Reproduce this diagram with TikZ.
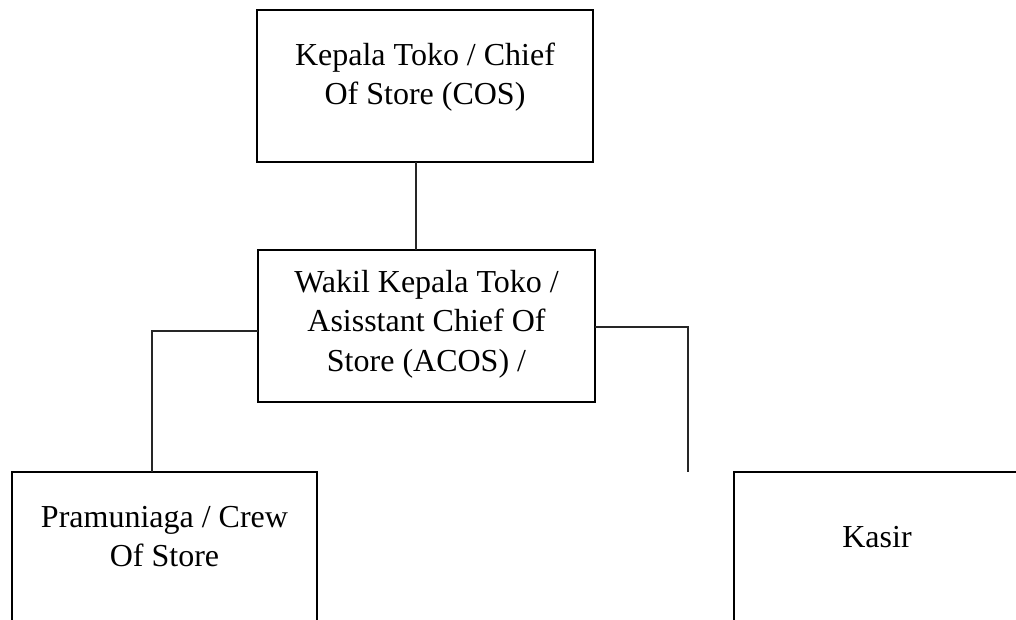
\documentclass[tikz,border=0pt]{standalone}
\usepackage{fontspec}
\setmainfont{Liberation Serif}
\begin{document}
\begin{tikzpicture}[x=1pt,y=-1pt,
  box/.style={draw=black, line width=2.2pt, inner sep=0pt, outer sep=0pt,
    text height=20pt, font=\fontsize{32}{39.5}\selectfont},
  link/.style={draw=black!85, line width=1.3pt}]
\useasboundingbox (0,0) rectangle (1016,619);
\clip (0,0) rectangle (1016,619);
\node[box, minimum width=336pt, minimum height=152pt, text depth=62pt] (top) at (425,86)
  {\begin{tabular}[t]{@{}c@{}}Kepala Toko / Chief\\Of Store (COS)\end{tabular}};
\node[box, minimum width=337pt, minimum height=152pt, text depth=88pt] (mid) at (426.5,326)
  {\begin{tabular}[t]{@{}c@{}}Wakil Kepala Toko /\\Asisstant Chief Of\\Store (ACOS) /\end{tabular}};
\node[box, minimum width=305pt, minimum height=160pt, text depth=70pt] (pram) at (164.5,552)
  {\begin{tabular}[t]{@{}c@{}}Pramuniaga / Crew\\Of Store\end{tabular}};
\node[box, minimum width=286pt, minimum height=160pt, text depth=30pt] (kasir) at (877,552)
  {\begin{tabular}[t]{@{}c@{}}Kasir\end{tabular}};
\coordinate (kend) at ([xshift=-46pt]kasir.north west);
\draw[link] ([xshift=-9pt]top.south) -- ([xshift=-9pt]top.south |- mid.north);
\draw[link] ([yshift=-5pt]mid.west) -| ([xshift=-12.5pt]pram.north);
\draw[link] ([yshift=-1pt]mid.east) -| (kend);
\end{tikzpicture}
\end{document}
